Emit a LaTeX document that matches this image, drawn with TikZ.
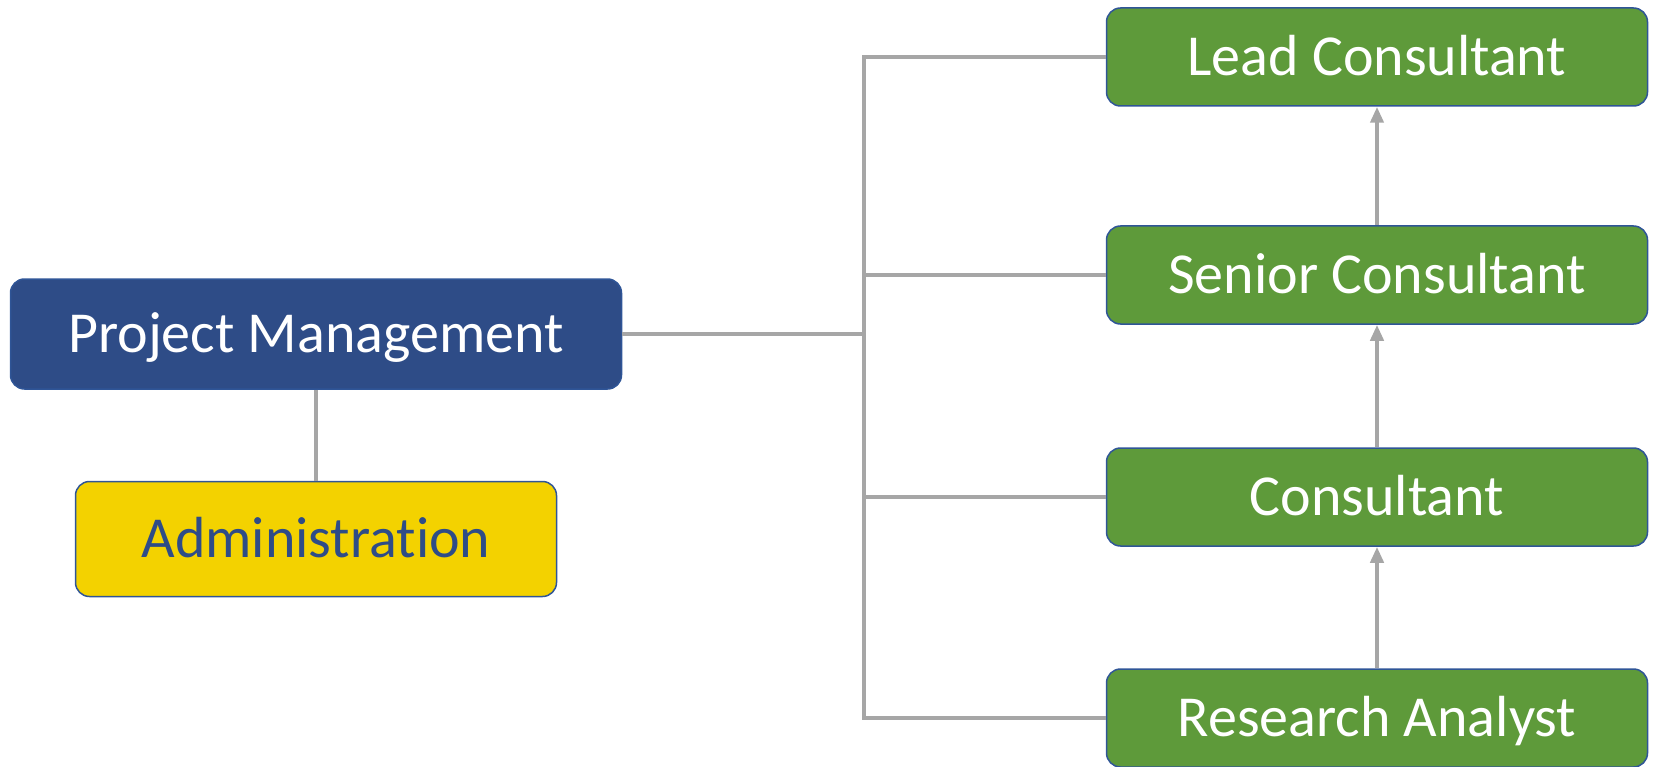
\documentclass[tikz,border=0pt]{standalone}
\usepackage{fontspec}
\setmainfont{Carlito}[Ligatures=NoCommon]
\usetikzlibrary{arrows.meta}
\definecolor{pmblue}{HTML}{2E4C87}
\definecolor{edgeblue}{HTML}{2F5597}
\definecolor{rolegreen}{HTML}{5E9A3A}
\definecolor{adminyellow}{HTML}{F3D200}
\definecolor{linkgrey}{HTML}{A6A6A6}
\begin{document}
\begin{tikzpicture}[
			x=1pt,y=-1pt,
			box/.style={draw=edgeblue,line width=1.5pt,rounded corners=14pt,
					font=\fontsize{58}{62}\selectfont,text height=37pt,text depth=0pt},
			role/.style={box,fill=rolegreen,text=white,minimum width=541pt,minimum height=98pt},
			link/.style={draw=linkgrey,line width=4.5pt},
			step up/.style={link,-{Triangle[length=16pt,width=13pt]}}
		]
		\useasboundingbox (0,0) rectangle (1653,767);
		\node[box,fill=pmblue,text=white,minimum width=611pt,minimum height=110pt] (pm) at (316,334) {Project Management};
		\node[box,fill=adminyellow,text=pmblue,minimum width=481pt,minimum height=115pt] (admin) at (316,539) {Administration};
		\node[role] (lead) at (1377,57) {Lead Consultant};
		\node[role] (senior) at (1377,275) {Senior Consultant};
		\node[role] (cons) at (1377,497) {Consultant};
		\node[role] (analyst) at (1377,718) {Research Analyst};
		\coordinate (bus) at (864,0);
		% links
		\draw[link] (pm.south) -- (admin.north);
		\draw[link] (pm.east) -- (pm.east -| bus);
		\draw[link] (lead.west) -- (lead.west -| bus) -- (analyst.west -| bus) -- (analyst.west);
		\draw[link] (senior.west) -- (senior.west -| bus);
		\draw[link] (cons.west) -- (cons.west -| bus);
		% promotion path
		\draw[step up] (analyst.north) -- (cons.south);
		\draw[step up] (cons.north) -- (senior.south);
		\draw[step up] (senior.north) -- (lead.south);
	\end{tikzpicture}
\end{document}
